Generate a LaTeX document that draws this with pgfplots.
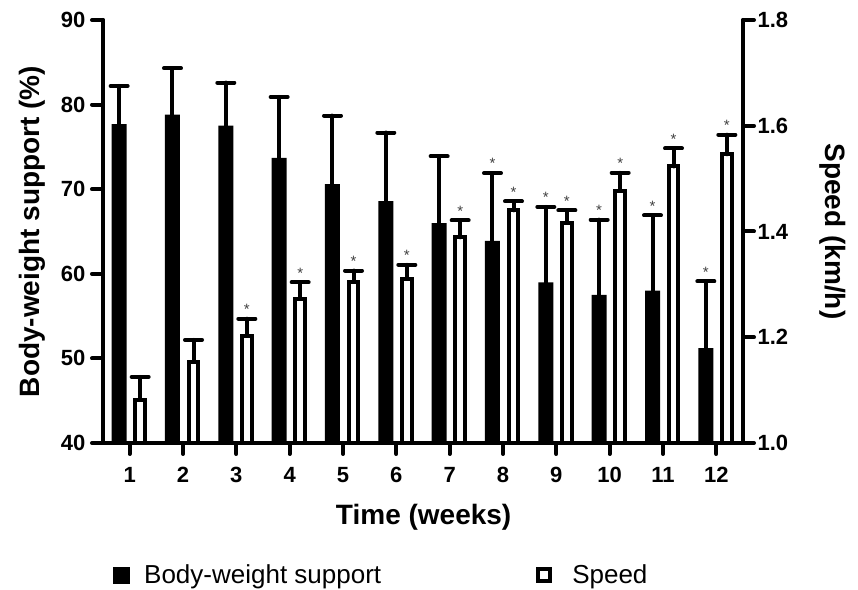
\documentclass[border=0pt]{standalone}
\usepackage{fontspec}
\setmainfont{Liberation Sans}
\usepackage{pgfplots}
\usepackage{pgfplotstable}
\pgfplotsset{compat=1.18}

% week, mean, SD (upward error)
\pgfplotstableread{
week bws err
1 77.7 4.5
2 78.8 5.5
3 77.5 5.1
4 73.7 7.2
5 70.6 8.1
6 68.6 8.1
7 66.0 7.9
8 63.9 8.0
9 59.0 8.9
10 57.5 8.9
11 58.0 8.9
12 51.2 7.9
}\bwstable
\pgfplotstableread{
week speed err
1 1.082 0.043
2 1.154 0.041
3 1.203 0.032
4 1.273 0.031
5 1.305 0.021
6 1.311 0.026
7 1.389 0.032
8 1.440 0.017
9 1.417 0.023
10 1.477 0.034
11 1.523 0.034
12 1.546 0.037
}\speedtable
% significance marks (value = top of error bar)
\pgfplotstableread{
week top
8 71.9
9 67.9
10 66.4
11 66.9
12 59.1
}\bwsstars
\pgfplotstableread{
week top
3 1.235
4 1.304
5 1.326
6 1.337
7 1.421
8 1.457
9 1.440
10 1.511
11 1.557
12 1.583
}\speedstars

\pgfplotsset{
 common/.style={
  scale only axis, width=640pt, height=423pt,
  xmin=0.5, xmax=12.5,
  clip=false,
  /pgf/number format/assume math mode=true,
  ticklabel style={font=\bfseries\fontsize{22}{22}\selectfont},
  legend style={draw=none, fill=none, inner sep=0pt, outer sep=0pt,
    font=\fontsize{26}{26}\selectfont, nodes={inner sep=0pt}},
 },
 nolinearrows/.style={
  axis line style={line width=4pt, line cap=round, -},
  every outer x axis line/.append style={-},
  every outer y axis line/.append style={-},
  every inner x axis line/.append style={-},
  every inner y axis line/.append style={-},
  x axis line style={-}, y axis line style={-},
  tick align=outside,
  major tick length=11pt,
  every tick/.style={line width=4pt, black, line cap=round},
 },
 ebars/.style={
  error bars/.cd, y dir=plus, y explicit,
  error bar style={line width=4pt, black, line cap=round},
  error mark options={rotate=90, line width=4pt, mark size=8.5pt, black, line cap=round},
 },
 stars/.style={draw=none, mark=none, forget plot,
  nodes near coords={*},
  nodes near coords style={anchor=south, inner sep=0pt, yshift=4pt,
    font=\fontsize{15}{15}\selectfont, text=black!75}},
}

\begin{document}
\begin{tikzpicture}
% Body-weight support (left axis)
\begin{axis}[common,
  ymin=40, ymax=90,
  axis y line=left, axis x line=bottom,
  nolinearrows,
  xtick={1,...,12}, ytick={40,50,60,70,80,90},
  xticklabel style={yshift=-10pt},
  yticklabel style={xshift=-3pt},
  xlabel={Time (weeks)}, ylabel={Body-weight support (\%)},
  xlabel style={at={(axis description cs:0.501,-0.176)}, anchor=center,
    font=\bfseries\fontsize{28}{28}\selectfont},
  ylabel style={at={(axis description cs:-0.111,0.5)}, anchor=center,
    font=\bfseries\fontsize{28}{28}\selectfont},
  legend style={at={(axis description cs:0.0156,-0.312)}, anchor=west},
]
\addplot[ybar, bar width=15pt, bar shift=0pt, fill=black, draw=none, forget plot, ebars]
 table[x expr=\thisrow{week}-0.197, y=bws, y error=err] {\bwstable};
\addplot[stars] table[x expr=\thisrow{week}-0.197, y=top] {\bwsstars};
\addlegendimage{legend image code/.code={
  \fill[black] (0pt,-8pt) rectangle (16pt,8pt);
  \path[draw=none, fill=none] (0pt,0pt) -- (31pt,0pt);}}
\addlegendentry{Body-weight support}
\end{axis}
% Speed (right axis)
\begin{axis}[common,
  ymin=1.0, ymax=1.8,
  axis y line=right, axis x line=none,
  nolinearrows,
  ytick={1.0,1.2,1.4,1.6,1.8},
  yticklabel style={/pgf/number format/.cd, fixed, fixed zerofill, precision=1},
  ylabel={Speed (km/h)},
  ylabel style={at={(axis description cs:1.1406,0.5)}, anchor=center, rotate=180,
    font=\bfseries\fontsize{28}{28}\selectfont},
  legend style={at={(axis description cs:0.677,-0.312)}, anchor=west},
]
\addplot[ybar, bar width=9.5pt, bar shift=0pt, fill=white, draw=black, line width=4pt, forget plot, ebars]
 table[x expr=\thisrow{week}+0.197, y=speed, y error=err] {\speedtable};
\addplot[stars] table[x expr=\thisrow{week}+0.197, y=top] {\speedstars};
\addlegendimage{legend image code/.code={
  \draw[black, line width=4pt, fill=white] (2pt,-6pt) rectangle (14pt,6pt);
  \path[draw=none, fill=none] (0pt,0pt) -- (36pt,0pt);}}
\addlegendentry{Speed}
\end{axis}
\pgfresetboundingbox
\path[use as bounding box] ([shift={(-103pt,-147pt)}]current axis.south west)
  rectangle ([shift={(115pt,20pt)}]current axis.north east);
\end{tikzpicture}
\end{document}
